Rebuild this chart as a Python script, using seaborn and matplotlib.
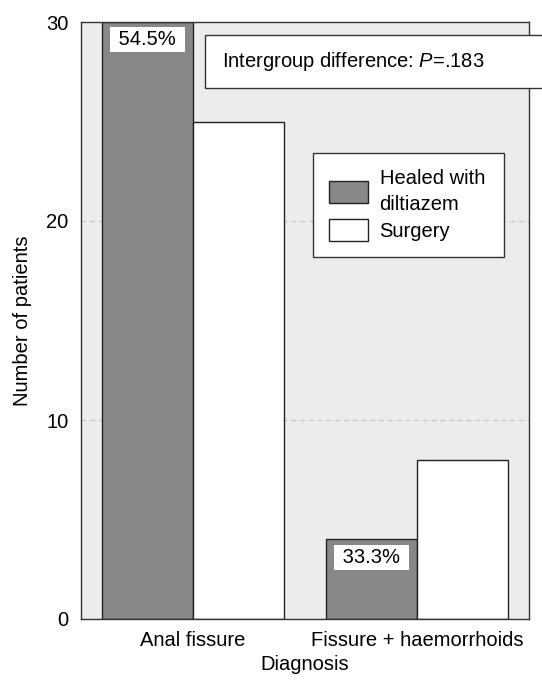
import matplotlib
matplotlib.use("Agg")
import matplotlib.pyplot as plt
import matplotlib.patches as mpatches
import pandas as pd
import seaborn as sns

diagnosis = ["Anal fissure", "Fissure + haemorrhoids"]
groups = ["Healed with\ndiltiazem", "Surgery"]
healed = [30, 4]
surgery = [25, 8]
pct_labels = ["54.5%", "33.3%"]
yticks = [0, 10, 20, 30]

df = pd.DataFrame({
    "Diagnosis": diagnosis * 2,
    "Group": [groups[0]] * 2 + [groups[1]] * 2,
    "Patients": healed + surgery,
})

sns.set_theme(style="white")
plt.rcParams["font.family"] = ["Liberation Sans", "DejaVu Sans"]
plt.rcParams["mathtext.fontset"] = "custom"
plt.rcParams["mathtext.it"] = "Liberation Sans:italic"
plt.rcParams["mathtext.rm"] = "Liberation Sans"
plt.rcParams["text.color"] = "black"
plt.rcParams["axes.labelcolor"] = "black"
plt.rcParams["xtick.color"] = "black"
plt.rcParams["ytick.color"] = "black"

fs = 14.5
fig = plt.figure(figsize=(5.42, 6.8), dpi=100)
ax = fig.add_axes([81 / 542, 61 / 680, 448 / 542, 597 / 680])
ax.set_facecolor("#ebedeb")

pal = {groups[0]: "#888888", groups[1]: "white"}
sns.barplot(data=df, x="Diagnosis", y="Patients", hue="Group", order=diagnosis,
            hue_order=groups, palette=pal, width=0.81, edgecolor="#222222",
            linewidth=1.0, saturation=1, legend=False, ax=ax)

ax.set_xlim(-0.5, 1.5)
ax.set_ylim(0, 30)
ax.set_yticks(yticks)
for y in [10, 20]:
    ax.axhline(y, color="#c8c8c8", lw=0.9, ls=(0, (4, 3)), zorder=0)

for s in ax.spines.values():
    s.set_color("#333333")
    s.set_linewidth(1.0)
ax.tick_params(axis="both", which="both", direction="out", length=7, width=1,
               color="#333333", labelsize=fs, pad=2)
ax.tick_params(axis="x", length=5, pad=4)
ax.set_xlabel("Diagnosis", fontsize=fs, labelpad=3)
ax.set_ylabel("Number of patients", fontsize=fs, labelpad=10)

# percentage labels on healed bars
offs = -0.2025
for i, (v, t) in enumerate(zip(healed, pct_labels)):
    ax.annotate(" " + t + " ", xy=(i + offs, v), xytext=(0, -6),
                textcoords="offset points", ha="center", va="top", fontsize=fs,
                bbox=dict(boxstyle="square,pad=0.15", fc="white", ec="none"))

# annotation box running off the right edge of the figure
ax.add_patch(mpatches.Rectangle((0.277, 0.889), 0.8, 0.089, transform=ax.transAxes,
                                fc="white", ec="#333333", lw=1.0, clip_on=False, zorder=5))
ax.text(0.315, 0.933, "Intergroup difference: $\\mathit{P}$=.183",
        transform=ax.transAxes, ha="left", va="center", fontsize=fs,
        clip_on=False, zorder=6)

handles = [mpatches.Patch(fc=pal[g], ec="#222222", lw=1.0, label=g) for g in groups]
leg = ax.legend(handles=handles, loc="upper left",
                bbox_to_anchor=(0.518, 0.781, 0.426, 0.0), mode="expand",
                fontsize=fs, frameon=True, fancybox=False, edgecolor="#333333",
                framealpha=1, borderpad=0.8, handlelength=1.95, handleheight=1.35,
                handletextpad=0.55, labelspacing=0.25, borderaxespad=0)
leg.get_frame().set_linewidth(1.0)
for t in leg.get_texts():
    t.set_linespacing(1.45)

fig.savefig("out.png", dpi=100)
